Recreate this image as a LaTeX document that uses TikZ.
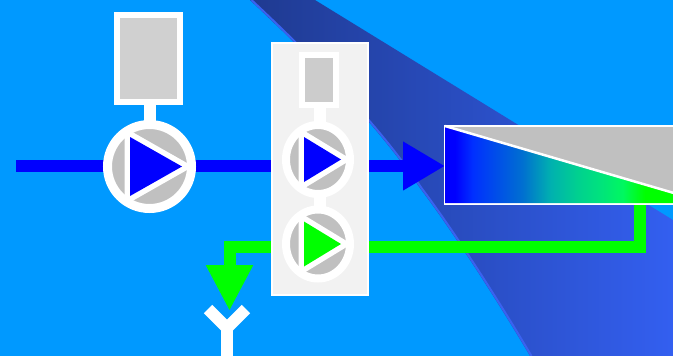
\documentclass[tikz,border=0pt]{standalone}
\usetikzlibrary{shapes.geometric,arrows.meta}
\definecolor{skybg}{HTML}{0099FF}
\definecolor{bandl}{HTML}{1F3A90}
\definecolor{bandr}{HTML}{335FF0}
\definecolor{bandedge}{HTML}{3A62F0}
\definecolor{tankgray}{HTML}{D0D0D0}
\definecolor{tankgraysm}{HTML}{CCCCCC}
\definecolor{pumpgray}{HTML}{C0C0C0}
\definecolor{panelgray}{HTML}{F2F2F2}
\definecolor{gra}{RGB}{0,48,255}
\definecolor{grb}{RGB}{0,112,208}
\definecolor{grc}{RGB}{0,176,176}
\definecolor{grd}{RGB}{0,208,144}
\definecolor{gre}{RGB}{0,224,128}
\definecolor{grf}{RGB}{0,248,96}
\pgfdeclarehorizontalshading{tankgrad}{100bp}{color(0bp)=(blue); color(26.9bp)=(blue); color(30.3bp)=(gra); color(39.8bp)=(grb); color(45bp)=(grc); color(50.1bp)=(grd); color(53.9bp)=(gre); color(58.8bp)=(grf); color(63bp)=(green); color(100bp)=(green)}
\tikzset{
  pipeblue/.style={draw=blue,line width=12pt},
  pipegreen/.style={draw=green,line width=12pt,line join=miter},
  stem/.style={draw=white,line width=12pt},
  tankbox/.style={rectangle,draw=white,line width=6pt,inner sep=0pt,outer sep=0pt},
  pumpbody/.style={ellipse,draw=white,fill=pumpgray,inner sep=0pt,outer sep=0pt},
}
% name, centre, rx, ry, tri left, tri half height, tri apex, colour, ring width
\newcommand\pumpat[9]{%
  \node[pumpbody,minimum width=#3*2pt,minimum height=#4*2pt,line width=#9pt] (#1) at (#2) {};
  \begin{scope}[shift={(#1.center)}]
    \begin{scope}
      \clip (0,0) ellipse [x radius=#3pt,y radius=#4pt];
      \draw[white,line width=11pt,line join=miter,miter limit=20]
        (#5,-#6) -- (#7,0) -- (#5,#6) -- cycle;
    \end{scope}
    \fill[#8] (#5,-#6) -- (#7,0) -- (#5,#6) -- cycle;
  \end{scope}}
\begin{document}
\begin{tikzpicture}[x=1pt,y=-1pt]
\useasboundingbox (0,0) rectangle (673,356);
\clip (0,0) rectangle (673,356);
\fill[skybg] (0,0) rectangle (673,356);
% diagonal band
\shade[left color=bandl,right color=bandr]
  (250,0) .. controls (300,47) and (370,115) .. (420,188)
  .. controls (450,228) and (492,292) .. (530,356)
  -- (673,356) -- (673,220) -- (315,0) -- cycle;
\draw[bandedge,line width=2pt,xshift=1.5pt]
  (250,0) .. controls (300,47) and (370,115) .. (420,188)
  .. controls (450,228) and (492,292) .. (530,356);
% free ends and tap points
\coordinate (feed) at (16,166);
\coordinate (tankin) at (445,166);
\coordinate (offtake) at (640,204);
\coordinate (drop) at (229.5,311);
\coordinate (yl) at (208,309);
\coordinate (yr) at (246,309);
\coordinate (yj) at (227,328);
\coordinate (ybase) at (227,357);
\coordinate (t1s) at (149.5,101);
\coordinate (p1c) at (149.5,166.5);
\coordinate (t2s) at (320,100);
\coordinate (s2) at (320,159.5);
\coordinate (s3) at (320,244);
\coordinate (p2c) at (318,159.5);
\coordinate (p3c) at (318,244);
% connectors behind the equipment
\draw[pipeblue,-{Triangle[length=42pt,width=46pt]}] (feed) -- (tankin);
\draw[pipegreen,-{Triangle[length=46pt,width=44pt]}] (offtake) -- (640,247) -| (drop);
\draw[white,line width=12pt,line join=miter] (yl) -- (yj) -- (yr);
\draw[white,line width=12pt] (yj) -- (ybase);
% first pump group
\draw[stem] (t1s) -- (p1c);
\node[tankbox,fill=tankgray,minimum width=63.5pt,minimum height=87pt] (t1) at (148.4,58) {};
\pumpat{p1}{p1c}{42}{42}{-19.5}{29.5}{32.5}{blue}{9}
% panel
\node[rectangle,draw=white,fill=panelgray,line width=2pt,inner sep=0pt,minimum width=96.5pt,minimum height=251.5pt] (panel) at (320.2,169.2) {};
\draw[stem] (t2s) -- (s2) -- (s3);
\node[tankbox,fill=tankgraysm,minimum width=34.5pt,minimum height=50pt] (t2) at (319,79.7) {};
\pumpat{p2}{p2c}{32}{34.5}{-14}{22.5}{23}{blue}{8}
\pumpat{p3}{p3c}{32}{34.5}{-14}{22.5}{23}{green}{8}
% sedimentation tank
\node[rectangle,draw=white,fill=pumpgray,line width=2pt,inner sep=0pt,minimum width=400pt,minimum height=78pt] (tank) at (645,165) {};
\path[shading=tankgrad] (445,126) -- (708,203) -- (445,203) -- cycle;
\draw[white,line width=2.5pt] (445,126) -- (708,203);
\end{tikzpicture}
\end{document}
